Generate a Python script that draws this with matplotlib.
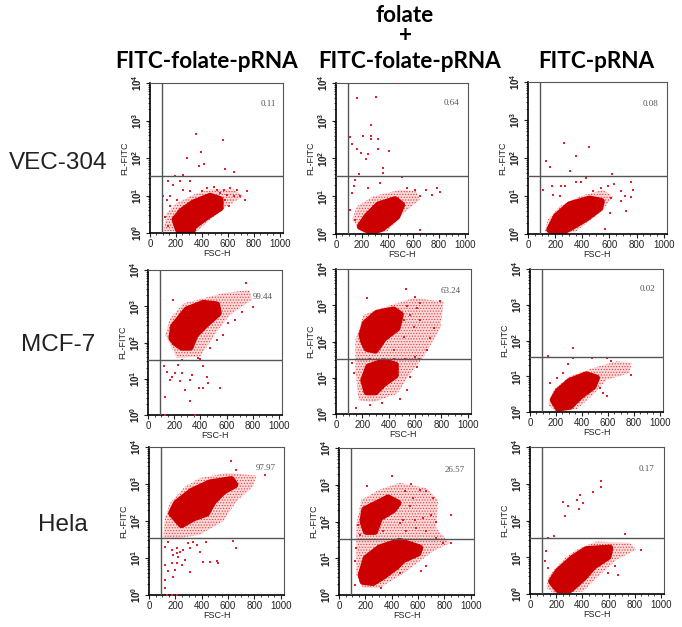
import matplotlib
matplotlib.use("Agg")
import matplotlib.pyplot as plt

plt.rcParams['font.family'] = ['Liberation Sans', 'DejaVu Sans']
plt.rcParams['mathtext.fontset'] = 'custom'
plt.rcParams['mathtext.rm'] = 'Liberation Sans:bold'
plt.rcParams['mathtext.default'] = 'rm'
plt.rcParams['hatch.linewidth'] = 0.5

# every pair is (FSC-H, decade of FL-FITC)
# the dense parts of the clouds are outlines, the loose events are points
vec_a_core = [(193,.36),(244,.58),(334,.80),(463,.98),(540,.89),(540,.67),(437,.44),(334,.18),(322,.03),(219,.09)]
vec_a_halo = [(103,.04),(129,.53),(206,.8),(334,1.02),(463,1.16),(643,1.16),(720,.98),(592,.71),(463,.36),(360,.04)]
vec_a_pts = [(355,2.64),(561,2.47),(391,2.15),(288,2.01),(419,1.85),(380,1.80),(579,1.72),(643,1.63),(193,1.51),(252,1.55),
             (141,1.38),(180,1.29),(232,1.38),(309,1.38),(103,.98),(154,.98),(206,.89),(257,1.16),(309,1.11),(437,1.2),
             (489,1.24),(566,1.16),(618,1.2),(669,1.16),(746,1.11),(733,.89),(695,.98),(643,.98),(592,1.02),(540,1.07),
             (579,.89),(515,1.16),(399,1.11),(154,.71),(129,.89),(116,.44),(141,.18),(605,.71)]

vec_b_core = [(188,.2),(239,.46),(329,.77),(458,.91),(509,.77),(471,.46),(355,.15),(278,.06)]
vec_b_halo = [(124,.37),(162,.73),(291,1.0),(497,1.17),(625,1.13),(651,.91),(522,.55),(394,.06),(214,.02)]
vec_b_pts = [(311,3.63),(162,3.59),(270,2.9),(111,2.58),(208,2.6),(273,2.6),(273,2.51),(324,2.52),(124,2.39),(162,2.24),
             (247,2.11),(329,2.24),(414,2.21),(196,2.15),(232,1.99),(363,1.75),(368,1.62),(175,1.59),(509,1.51),(149,1.44),
             (136,1.26),(342,1.35),(252,1.22),(124,1.08),(548,1.22),(612,1.17),(702,1.17),(785,1.22),(810,1.11),(741,1.04),
             (651,1.0),(111,.64),(149,.37),(651,.11),(489,4.0)]

vec_c_core = [(160,.11),(209,.46),(307,.77),(454,.92),(540,.86),(528,.68),(430,.42),(307,.16),(246,.05)]
vec_c_halo = [(123,.07),(147,.38),(233,.73),(381,.99),(553,1.16),(626,.99),(553,.64),(430,.29),(344,.04)]
vec_c_pts = [(263,2.39),(449,2.3),(356,2.04),(135,1.93),(160,1.76),(312,1.67),(619,1.58),(351,1.38),(393,1.36),(430,1.47),
             (631,1.32),(761,1.38),(179,1.25),(246,1.25),(270,1.25),(184,1.03),(110,1.16),(479,1.12),(540,1.21),(589,1.25),
             (688,1.12),(774,1.16),(761,.97),(712,.99),(614,.95),(688,.86),(725,.6),(565,.13),(602,.55),(233,.99)]

mcf_a_core = [(183,2.12),(195,2.44),(297,2.9),(423,3.08),(525,3.04),(537,2.81),(449,2.53),(360,2.21),(322,1.87),(259,1.87),(208,2.0)]
mcf_a_halo = [(132,2.21),(170,2.67),(271,3.08),(423,3.22),(575,3.36),(778,3.45),(791,3.17),(626,2.76),(525,2.3),(398,1.61),(221,1.57)]
mcf_a_pts = [(748,3.63),(188,3.17),(119,1.34),(144,1.2),(208,1.16),(259,1.16),(335,1.11),(423,1.34),(385,1.57),(183,1.06),
             (170,.97),(246,.93),(322,.97),(449,1.06),(461,.88),(393,.74),(550,.74),(132,.5),(322,.39),(423,.74),
             (284,.7),(132,.01),(360,.01),(259,1.52),(398,1.55),(233,1.38),(804,2.99),(715,2.85),(613,2.53),(664,2.62),
             (575,2.21),(525,2.07),(474,1.84)]

mcf_b_core = [(197,2.18),(222,2.5),(311,2.78),(437,2.87),(488,2.74),(463,2.37),(361,2.09),(298,1.76),(235,1.81),(210,2.0)]
mcf_b_core2 = [(210,.93),(248,1.3),(361,1.44),(450,1.35),(450,1.07),(361,.84),(298,.61),(235,.61)]
mcf_b_halo = [(147,2.04),(210,2.74),(387,2.97),(589,3.2),(817,3.1),(791,2.37),(665,1.58),(564,1.12),(463,.56),(286,.33),(172,.38),(147,1.21)]
mcf_b_pts = [(533,3.45),(235,3.2),(152,.17),(349,.29),(260,.24),(121,1.4),(134,1.12),(791,3.13),(741,2.37),(716,2.09),
             (690,1.76),(627,1.53),(614,1.3),(538,.66),(488,.42),(564,1.03),(640,3.06),(602,3.24),(614,2.92),(538,2.97),
             (564,2.74),(513,2.6),(640,2.6),(589,2.41),(513,2.13),(437,1.76),(260,1.52),(437,1.52),(526,1.53),(602,1.58)]

mcf_c_core = [(179,.34),(218,.58),(307,.86),(435,1.04),(512,.95),(486,.72),(384,.44),(307,.16),(218,.11)]
mcf_c_halo = [(141,.2),(179,.62),(307,1.0),(486,1.23),(666,1.42),(781,1.37),(768,1.09),(589,.9),(486,.48),(358,.07),(192,.02)]
mcf_c_pts = [(328,1.79),(141,1.58),(333,1.5),(474,1.5),(589,1.5),(294,1.35),(154,.81),(205,.95),(256,1.09),(627,1.42),
             (781,1.04),(589,.44),(563,.53),(538,.67)]

hela_a_core = [(171,2.21),(209,2.48),(323,2.8),(462,3.03),(625,3.12),(651,2.98),(562,2.8),(487,2.53),(436,2.21),(335,2.08),(247,1.9)]
hela_a_halo = [(121,2.08),(159,2.48),(272,2.93),(386,3.16),(588,3.3),(815,3.23),(789,2.93),(663,2.53),(562,1.99),(386,1.63),(235,1.54),(108,1.54)]
hela_a_pts = [(625,3.61),(878,3.23),(663,3.39),(121,1.31),(146,1.44),(171,1.22),(209,1.26),(235,1.17),(184,1.08),(222,1.04),
              (260,1.22),(310,1.26),(361,1.35),(386,1.17),(298,1.4),(335,1.44),(121,.81),(171,.86),(209,.86),(247,.81),
              (272,.95),(197,.68),(310,.63),(146,.65),(121,.41),(184,.5),(411,.9),(462,.9),(512,.92),(525,.86),
              (663,1.26),(638,1.46),(121,.18),(171,0),(134,0),(209,0),(436,1.44),(209,1.13)]

hela_b_core = [(169,.55),(207,1.0),(308,1.28),(460,1.46),(612,1.28),(599,1.14),(485,.96),(435,.78),(334,.51),(258,.34),(182,.37)]
hela_b_core2 = [(182,2.0),(195,2.32),(296,2.5),(372,2.64),(447,2.5),(410,2.32),(308,2.1),(270,1.73),(207,1.73)]
hela_b_halo = [(131,.55),(131,1.91),(169,2.59),(308,2.87),(460,3.05),(662,2.91),(751,2.59),(738,1.82),(839,1.41),(713,1.19),(511,.64),(308,.19),(182,.19)]
hela_b_pts = [(404,3.23),(215,2.96),(543,3.02),(847,2.17),(852,1.41),(662,2.84),(612,2.87),(713,2.64),(700,2.19),(637,2.1),
              (574,2.05),(738,2.0),(738,1.55),(789,1.41),(624,.64),(662,.78),(460,.6),(321,.19),(119,.28),(119,.92),
              (131,1.28),(157,1.64),(144,1.91),(536,2.41),(485,2.05),(586,1.82),(662,1.73),(511,1.73),(334,1.73),(460,1.96),
              (561,2.64),(498,2.82)]

hela_c_core = [(165,.34),(216,.62),(330,.98),(432,1.21),(610,1.25),(597,1.02),(483,.75),(407,.44),(305,.12),(216,.12)]
hela_c_halo = [(127,.16),(140,.48),(267,.98),(356,1.21),(508,1.43),(762,1.39),(813,1.21),(661,.93),(508,.44),(407,.07),(178,.03)]
hela_c_pts = [(539,3.08),(539,2.91),(483,2.77),(381,2.7),(254,2.5),(292,2.39),(356,2.55),(407,2.48),(376,2.31),(267,2.13),
              (183,1.57),(140,1.52),(724,1.63),(851,1.21),(122,1.16),(114,.89),(140,.71),(673,.53),(648,.75),(597,.57)]

percent_labels = ["0.11", "0.64", "0.08", "99.44", "63.24", "0.02", "97.97", "26.57", "0.17"]
percent_x = [908, 893, 904, 880, 869, 904, 883, 880, 889]
percent_y = [3.44, 3.46, 3.41, 3.26, 3.38, 3.43, 3.43, 3.4, 3.4]

row_labels = ["VEC-304", "MCF-7", "Hela"]
col_labels = ["FITC-folate-pRNA", "FITC-folate-pRNA", "FITC-pRNA"]

# left, top, right, bottom of each panel in pixels
boxes = [(150, 83, 283, 233), (336, 83, 468, 234), (528, 82, 667, 234),
         (148, 270, 282, 415), (336, 269, 471, 414), (530, 269, 663, 412),
         (149, 447, 284, 595), (339, 448, 474, 595), (530, 447, 664, 594)]

cores = [[vec_a_core], [vec_b_core], [vec_c_core],
         [mcf_a_core], [mcf_b_core, mcf_b_core2], [mcf_c_core],
         [hela_a_core], [hela_b_core, hela_b_core2], [hela_c_core]]
halos = [vec_a_halo, vec_b_halo, vec_c_halo, mcf_a_halo, mcf_b_halo, mcf_c_halo, hela_a_halo, hela_b_halo, hela_c_halo]
points = [vec_a_pts, vec_b_pts, vec_c_pts, mcf_a_pts, mcf_b_pts, mcf_c_pts, hela_a_pts, hela_b_pts, hela_c_pts]

W, H = 682, 627
fig = plt.figure(figsize=(W / 100, H / 100), dpi=100, facecolor="white")


def to_fl(pairs):
    return [p[0] for p in pairs], [10 ** p[1] for p in pairs]


for i, (l, t, r, b) in enumerate(boxes):
    ax = fig.add_axes([l / W, 1 - b / H, (r - l) / W, (b - t) / H])
    ax.set_yscale("log")

    hx, hy = to_fl(halos[i])
    # stippled fill stands in for the loose events around the dense core
    ax.fill(hx, hy, facecolor="#fbd9d9", edgecolor="#e8383c", hatch="......", lw=0, zorder=1)
    for core in cores[i]:
        cx, cy = to_fl(core)
        ax.fill(cx, cy, facecolor="#cc0000", edgecolor="#cc0000", lw=5, joinstyle="round", zorder=2)
    px, py = to_fl(points[i])
    ax.scatter(px, py, s=3, marker="s", color="#e0202a", linewidths=0, zorder=3)

    ax.axvline(90, color="#555555", lw=1, zorder=4)
    ax.axhline(10 ** 1.53, color="#555555", lw=1, zorder=4)
    ax.text(percent_x[i], 10 ** percent_y[i], percent_labels[i], fontsize=6.5, family="Liberation Serif",
            color="#555555", ha="center", va="center", zorder=5)

    ax.set_xlim(0, 1024)
    ax.set_ylim(1, 1e4)
    ax.set_xticks([0, 200, 400, 600, 800, 1000])
    ax.set_xticks(range(0, 1001, 50), minor=True)
    ax.set_yticks([1, 10, 100, 1000, 10000])
    ax.set_yticklabels(["$10^{0}$", "$10^{1}$", "$10^{2}$", "$10^{3}$", "$10^{4}$"], rotation=90, va="center")
    ax.tick_params(axis="x", which="major", length=3, width=0.8, labelsize=7, pad=1.5, colors="#222222")
    ax.tick_params(axis="y", which="major", length=3, width=0.8, labelsize=7, pad=1, colors="#222222")
    ax.tick_params(axis="both", which="minor", length=1.5, width=0.6, color="#222222")
    ax.set_xlabel("FSC-H", fontsize=6.5, labelpad=0, color="#222222")
    ax.set_ylabel("FL-FITC", fontsize=6.5, labelpad=1, color="#222222")
    ax.spines["left"].set_linewidth(1.2)
    ax.spines["bottom"].set_linewidth(1.2)
    ax.spines["top"].set_color("#555555")
    ax.spines["right"].set_color("#555555")


def px_text(x, y, s, **kw):
    fig.text(x / W, 1 - y / H, s, ha="center", va="center", **kw)


bold = dict(fontsize=16.2, fontweight="bold", family="Lato", color="black")
px_text(207, 61, col_labels[0], **bold)
px_text(410, 61, col_labels[1], **bold)
px_text(596, 61, col_labels[2], **bold)
px_text(405, 16, "folate", **bold)
px_text(405, 36, "+", **bold)

px_text(58, 163, row_labels[0], fontsize=17.5, color="#222222")
px_text(58, 345, row_labels[1], fontsize=17.5, color="#222222")
px_text(63, 525, row_labels[2], fontsize=17.5, color="#222222")

fig.savefig("out.png", dpi=100)
